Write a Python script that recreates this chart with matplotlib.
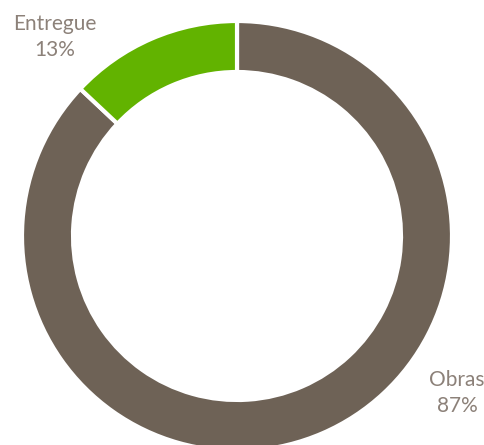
import matplotlib.pyplot as plt

labels = ["Obras", "Entregue"]
values = [87, 13]
colors = ["#6E6256", "#62B300"]

fig = plt.figure(figsize=(4.84, 4.45), dpi=100)
ax = fig.add_axes([0, 0, 1, 1])

# donut starting at 12 o'clock, going clockwise
ax.pie(values, colors=colors, startangle=90, counterclock=False,
       center=(237, 209), radius=215, frame=True,
       wedgeprops=dict(width=51, edgecolor="white", linewidth=3))
ax.set_xlim(0, 484)
ax.set_ylim(0, 445)
ax.set_aspect("equal")
ax.axis("off")

txt = dict(color="#8C8179", fontsize=15, family="Lato", ha="center",
           va="center", linespacing=1.35)
ax.text(55, 408, f"{labels[1]}\n{values[1]}%", **txt)
ax.text(457, 52, f"{labels[0]}\n{values[0]}%", **txt)

fig.savefig("out.png", dpi=100)
